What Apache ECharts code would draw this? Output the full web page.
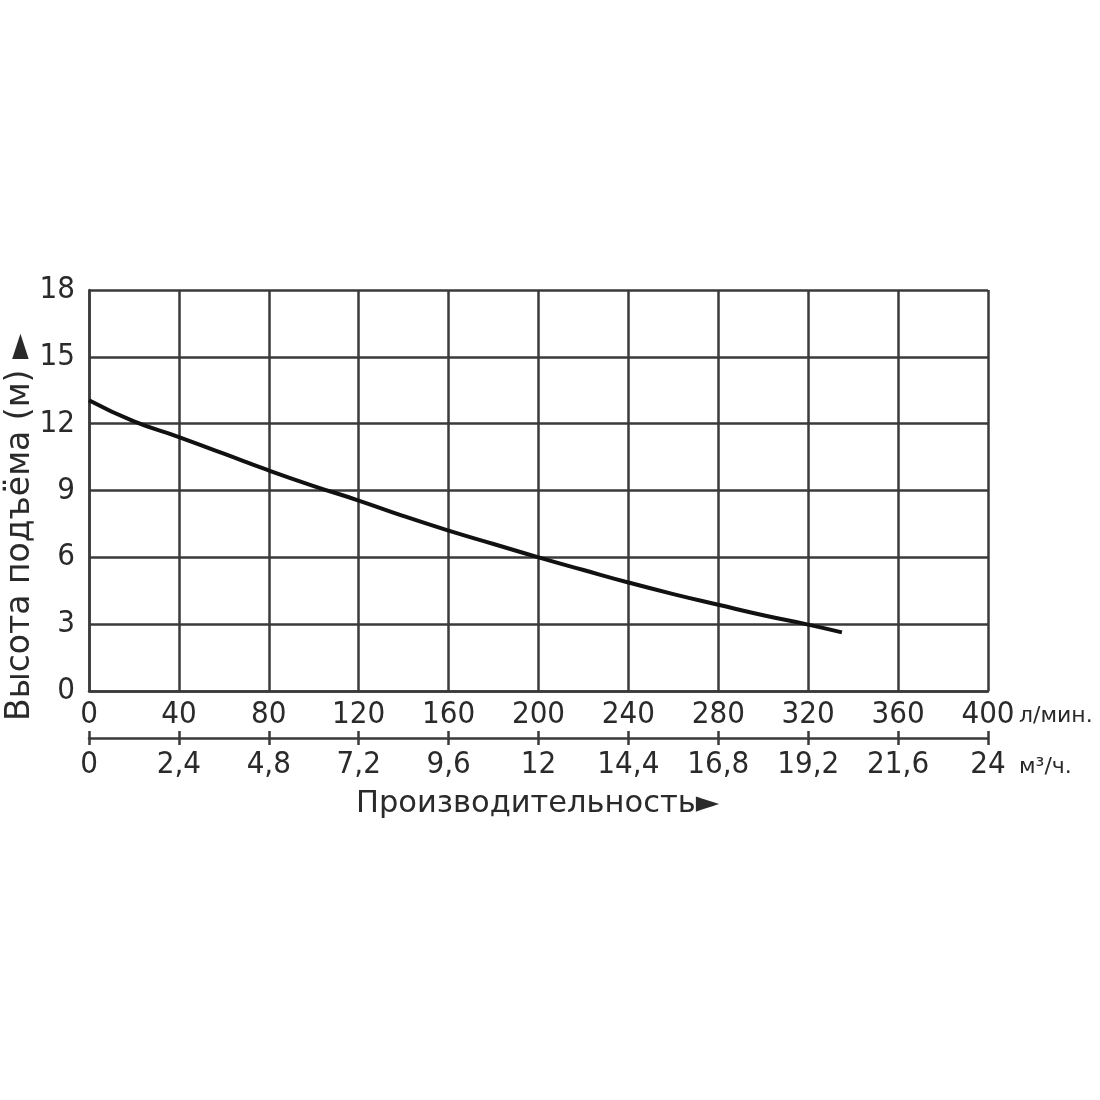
<!DOCTYPE html>
<html><head><meta charset="utf-8">
<script src="https://cdn.jsdelivr.net/npm/echarts@6/dist/echarts.min.js"></script>
<style>html,body{margin:0;padding:0;background:#fff}#c{width:1100px;height:1100px}</style>
</head><body><div id="c"></div>
<script>
const flowLpm = [0, 20, 40, 60, 80, 100, 120, 140, 160, 180, 200, 220, 240, 260, 280, 300, 320, 335];
const headM = [13.05, 12.1, 11.4, 10.65, 9.9, 9.2, 8.55, 7.85, 7.2, 6.6, 6.0, 5.43, 4.87, 4.35, 3.87, 3.4, 2.98, 2.63];
const yTicks = [0, 3, 6, 9, 12, 15, 18];
const xTicksLpm = [0, 40, 80, 120, 160, 200, 240, 280, 320, 360, 400];
const xTicksM3h = ['0', '2,4', '4,8', '7,2', '9,6', '12', '14,4', '16,8', '19,2', '21,6', '24'];
const yTitle = 'Высота подъёма (м) ►';
const xTitle = 'Производительность►';
const unitLpm = 'л/мин.';
const unitM3h = 'м³/ч.';

const FONT = '"DejaVu Sans Condensed", "DejaVu Sans", sans-serif';
const FONT2 = '"DejaVu Sans", sans-serif';
const GRID = '#3a3a3a';
const chart = echarts.init(document.getElementById('c'));
const lbl = {color: '#2a2a2a', fontFamily: FONT, fontSize: 31};
chart.setOption({
  animation: false,
  backgroundColor: '#fff',
  grid: {left: 89, right: 112, top: 290, height: 401, containLabel: false},
  xAxis: [
    {type: 'value', min: 0, max: 400, interval: 40,
     axisLine: {show: true, lineStyle: {color: GRID, width: 2.5}},
     axisTick: {show: false},
     splitLine: {show: true, lineStyle: {color: GRID, width: 2.5}},
     axisLabel: Object.assign({margin: 8, formatter: v => String(v)}, lbl)},
    {type: 'value', min: 0, max: 400, interval: 40, position: 'bottom', offset: 47,
     axisLine: {show: true, lineStyle: {color: GRID, width: 2.5}},
     axisTick: {show: true, length: 7, lineStyle: {color: GRID, width: 2.5}},
     splitLine: {show: false},
     axisLabel: Object.assign({margin: 11, formatter: v => xTicksM3h[Math.round(v / 40)]}, lbl)},
    {type: 'value', min: 0, max: 400, interval: 40, position: 'bottom', offset: 47,
     axisLine: {show: false},
     axisTick: {show: true, inside: true, length: 7, lineStyle: {color: GRID, width: 2.5}},
     splitLine: {show: false}, axisLabel: {show: false}}
  ],
  yAxis: {type: 'value', min: 0, max: 18, interval: 3,
    axisLine: {show: true, lineStyle: {color: GRID, width: 2.5}},
    axisTick: {show: false},
    splitLine: {show: true, lineStyle: {color: GRID, width: 2.5}},
    axisLabel: Object.assign({margin: 14}, lbl)},
  series: [{
    type: 'line', xAxisIndex: 0, smooth: true, showSymbol: false,
    lineStyle: {color: '#111', width: 4},
    data: flowLpm.map((x, i) => [x, headM[i]])
  }],
  graphic: [
    {type: 'text', left: 356, top: 789,
     style: {text: xTitle, fill: '#2a2a2a', font: '30.5px ' + FONT2}},
    {type: 'text', x: 4, y: 721, rotation: Math.PI / 2,
     style: {text: yTitle, fill: '#2a2a2a', font: '33px ' + FONT2, textVerticalAlign: 'top'}},
    {type: 'text', x: 1019, y: 705, style: {text: unitLpm, fill: '#2a2a2a', font: '22px ' + FONT2}},
    {type: 'text', x: 1019, y: 756, style: {text: unitM3h, fill: '#2a2a2a', font: '22px ' + FONT2}}
  ]
});
</script></body></html>
